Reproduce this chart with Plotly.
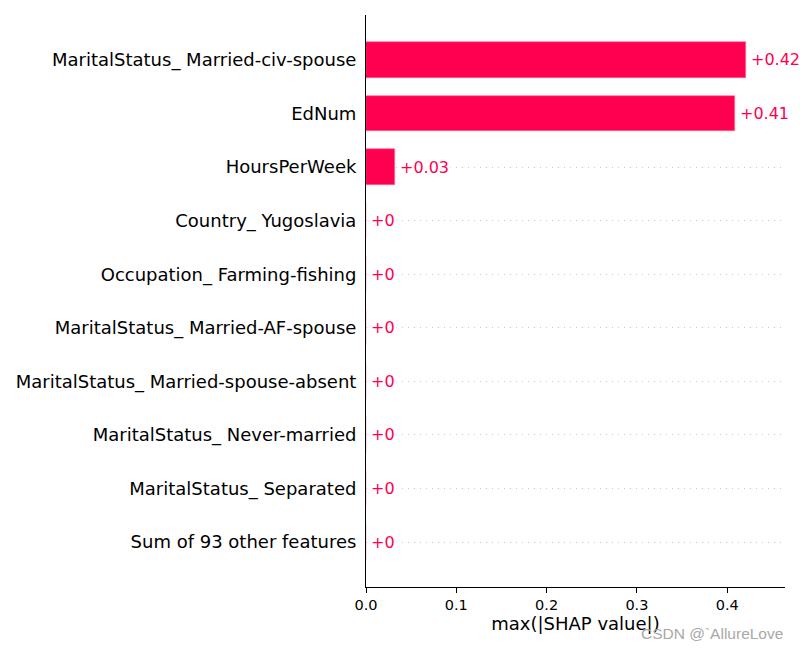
import plotly.graph_objects as go

FEATURES = [
    "MaritalStatus_ Married-civ-spouse",
    "EdNum",
    "HoursPerWeek",
    "Country_ Yugoslavia",
    "Occupation_ Farming-fishing",
    "MaritalStatus_ Married-AF-spouse",
    "MaritalStatus_ Married-spouse-absent",
    "MaritalStatus_ Never-married",
    "MaritalStatus_ Separated",
    "Sum of 93 other features",
]
MAX_SHAP = [0.421, 0.409, 0.032, 0, 0, 0, 0, 0, 0, 0]
X_TICKS = [0.0, 0.1, 0.2, 0.3, 0.4]

RED = "#ff0051"
FONT = "DejaVu Sans"

fig = go.Figure()
fig.add_trace(go.Bar(
    x=MAX_SHAP,
    y=FEATURES,
    orientation="h",
    width=0.66,
    marker=dict(color=RED, line=dict(color="#ff6f96", width=0.6)),
    hoverinfo="skip",
))

for feat, val in zip(FEATURES, MAX_SHAP):
    fig.add_annotation(
        x=val, y=feat, xref="x", yref="y",
        text=f"+{round(val, 2):g}",
        showarrow=False, xanchor="left", xshift=3,
        font=dict(family=FONT, size=16, color=RED),
        bgcolor="white", borderpad=1,
    )

fig.add_annotation(
    x=1, y=-0.082, xref="paper", yref="paper",
    text="CSDN @`AllureLove", showarrow=False,
    xanchor="right", yanchor="middle",
    font=dict(family="Liberation Sans", size=15.5, color="#a8a8a8"),
)

fig.update_layout(
    width=800, height=650,
    paper_bgcolor="white", plot_bgcolor="white",
    margin=dict(l=366, r=15, t=15, b=63),
    font=dict(family=FONT, color="black"),
    showlegend=False,
    bargap=0,
    xaxis=dict(
        range=[0, 0.464],
        tickvals=X_TICKS,
        ticktext=[f"{t:.1f}" for t in X_TICKS],
        ticks="outside", ticklen=5, tickcolor="black",
        tickfont=dict(size=14.5),
        showline=True, linecolor="black", linewidth=1,
        showgrid=False, zeroline=False,
        title=dict(text="max(|SHAP value|)", font=dict(size=18), standoff=4),
    ),
    yaxis=dict(
        categoryorder="array", categoryarray=FEATURES,
        autorange=False, range=[9.84, -0.84],
        showline=True, linecolor="black", linewidth=1,
        ticks="", tickfont=dict(size=18),
        ticklabelstandoff=5,
        showgrid=True, gridcolor="#c8c8c8", gridwidth=1, griddash="1px,5px",
        zeroline=False,
    ),
)

# drop the default body margin so the 800x650 figure sits at the page origin
fig.write_html(
    "out.html",
    config={"displayModeBar": False},
    post_script="document.body.style.margin='0';",
)
